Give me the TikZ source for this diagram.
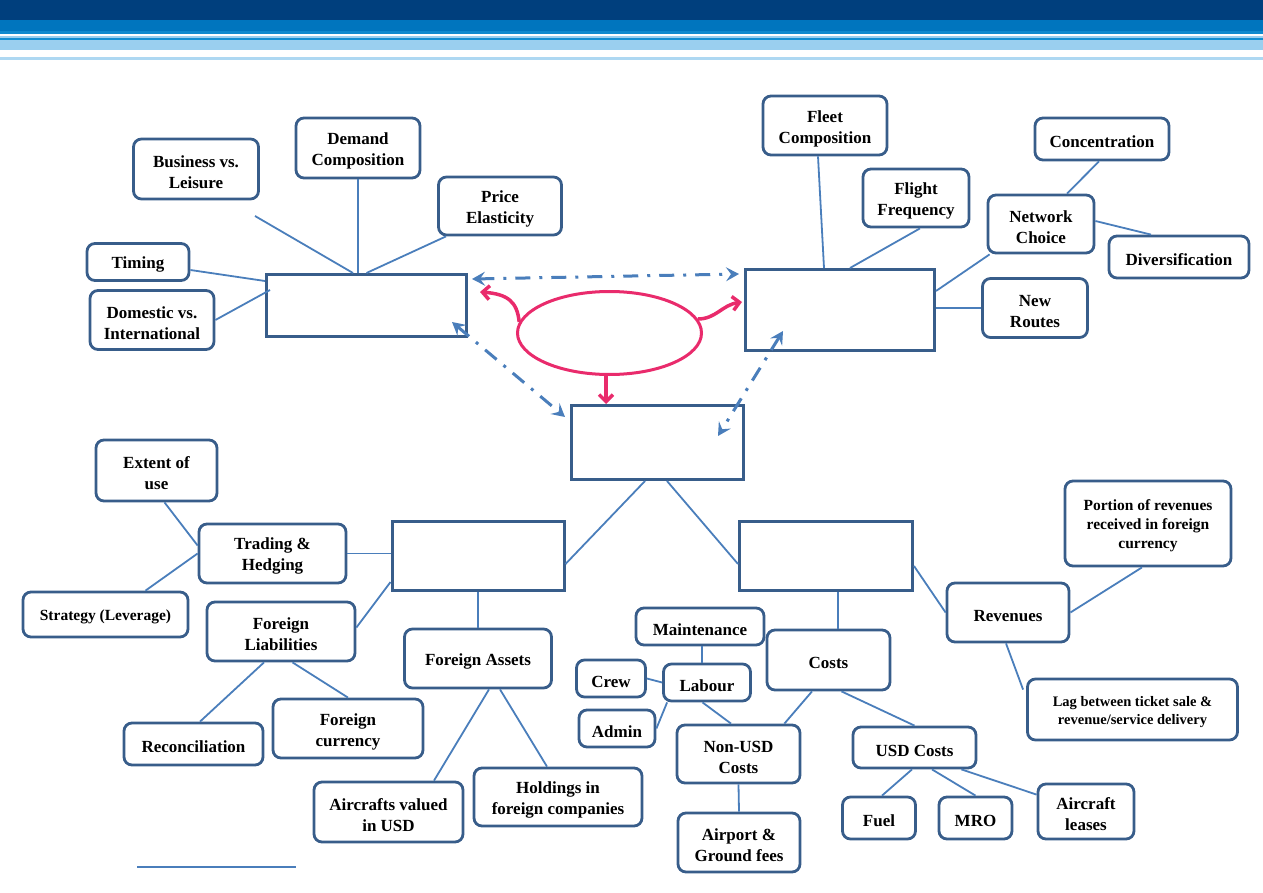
\documentclass[tikz,border=0pt]{standalone}
\usepackage{fontspec}
\setmainfont{Liberation Serif}
\usetikzlibrary{arrows.meta, shapes.geometric}
\definecolor{boxblue}{RGB}{56,93,138}
\definecolor{linkblue}{RGB}{74,126,187}
\definecolor{driverpink}{RGB}{233,43,108}
\definecolor{navyband}{RGB}{0,63,125}
\definecolor{midband}{RGB}{0,117,190}
\definecolor{skyband}{RGB}{154,207,239}
\definecolor{lineband}{RGB}{20,143,210}
\def\rowsdrop{0pt}

\begin{document}
\begin{tikzpicture}[x=1pt,y=-1pt,
            factor/.style={draw=boxblue, line width=2.8pt, rounded corners=8pt, fill=white,
              align=center, inner sep=2pt, font=\bfseries\fontsize{17}{21}\selectfont,
              execute at begin node={\rule{0pt}{\dimexpr1.04em+\rowsdrop\relax}}},
            rows/.code={\def\rowsdrop{#1}},
            sz/.style 2 args={minimum width=#1pt, minimum height=#2pt},
            hub/.style={draw=boxblue, line width=3pt, fill=white},
            link/.style={draw=linkblue, line width=1.8pt},
            flow/.style={linkblue, line width=3pt, dash pattern=on 15pt off 9pt on 3pt off 9pt,
              {Stealth[length=13pt,width=14pt,inset=5pt]}-{Stealth[length=13pt,width=14pt,inset=5pt]}},
            drive/.style={driverpink, line width=3.5pt, -{Straight Barb[length=7pt,width=14pt]}}]
            \useasboundingbox (0,0) rectangle (1263,893);
            % header bands
            \fill[navyband] (0,0) rectangle (1263,20);
            \fill[midband] (0,20) rectangle (1263,31);
            \fill[lineband!80!midband] (0,31) rectangle (1263,34.5);
            \fill[skyband] (0,36) rectangle (1263,38);
            \fill[lineband] (0,38) rectangle (1263,40.5);
            \fill[skyband] (0,40.5) rectangle (1263,50.5);
            \fill[skyband!80] (0,57.5) rectangle (1263,60);

            % demand
            \node[hub, sz={200}{62}] (D) at (366.5,305.5) {};
            \node[factor, rows=21pt, sz={125}{60}] (BL) at (196,169) {Business vs.\\Leisure};
            \node[factor, rows=21pt, sz={124}{60}] (DC) at (358,148) {Demand\\Composition};
            \node[factor, rows=21pt, sz={123}{58}] (PE) at (500,206) {Price\\Elasticity};
            \node[factor, sz={102}{37}] (TI) at (138,262) {Timing};
            \node[factor, rows=21pt, sz={124}{59}] (DI) at (152,320) {Domestic vs.\\International};
            \coordinate (bl) at (255,216);

            % supply
            \node[hub, sz={189}{81}] (S) at (840,310) {};
            \node[factor, rows=21pt, sz={124}{59}] (FC) at (825,125.5) {Fleet\\Composition};
            \node[factor, rows=21pt, sz={106}{58}] (FF) at (916,198) {Flight\\Frequency};
            \node[factor, sz={134}{42}] (CO) at (1102,139) {Concentration};
            \node[factor, rows=21pt, sz={106}{58}] (NC) at (1041,224) {Network\\Choice};
            \node[factor, sz={140}{42}] (DV) at (1179,257) {Diversification};
            \node[factor, rows=21pt, sz={105}{59}] (NR) at (1035,308) {New\\Routes};

            % centre
            \node[ellipse, draw=driverpink, line width=3pt, minimum width=184pt, minimum height=83pt] (E) at (609.5,333) {};
            \node[hub, sz={172}{74}] (R) at (657.5,442.5) {};

            % exposure
            \node[hub, sz={172}{69}] (X) at (478,556) {};
            \node[factor, rows=21pt, sz={121}{61}] (EU) at (156.5,470.5) {Extent of\\use};
            \node[factor, rows=21pt, sz={147}{59}] (TH) at (272.5,553.5) {Trading \&\\Hedging};
            \node[factor, sz={165}{45}, font=\bfseries\fontsize{15.5}{19}\selectfont] (SL) at (105.5,614.5) {Strategy (Leverage)};
            \node[factor, rows=21pt, sz={148}{59}] (FL) at (281,631.5) {Foreign\\Liabilities};
            \node[factor, sz={147}{59}] (FA) at (478,658.5) {Foreign Assets};
            \node[factor, sz={139}{42}] (RC) at (193.5,744) {Reconciliation};
            \node[factor, rows=21pt, sz={150}{59}] (FCU) at (348,728.5) {Foreign\\currency};
            \node[factor, rows=21pt, sz={149}{60}] (AV) at (388.5,812) {Aircrafts valued\\in USD};
            \node[factor, rows=21pt, sz={168}{58}] (HF) at (558,797) {Holdings in\\foreign companies};

            % costs and revenues
            \node[hub, sz={173}{69}] (C) at (826,556) {};
            \node[factor, rows=38pt, sz={166}{85}, font=\bfseries\fontsize{15.5}{19}\selectfont] (PR) at (1148,523.5) {Portion of revenues\\received in foreign\\currency};
            \node[factor, sz={122}{59}] (RV) at (1008,612.5) {Revenues};
            \node[factor, rows=18pt, sz={210}{61}, font=\bfseries\fontsize{14.5}{18}\selectfont] (LG) at (1132.5,709.5) {Lag between ticket sale \&\\revenue/service delivery};
            \node[factor, sz={128}{37}] (MT) at (700,626.5) {Maintenance};
            \node[factor, sz={123}{60}] (CS) at (828.5,660) {Costs};
            \node[factor, sz={69}{37}] (CR) at (611,678.5) {Crew};
            \node[factor, sz={87}{37}] (LB) at (707,682.5) {Labour};
            \node[factor, sz={76}{37}] (AD) at (617,728.5) {Admin};
            \node[factor, rows=21pt, sz={123}{58}] (NU) at (738.5,754) {Non-USD\\Costs};
            \node[factor, sz={123}{41}] (US) at (914.5,747.5) {USD Costs};
            \node[factor, rows=21pt, sz={122}{59}] (AP) at (739,842.5) {Airport \&\\Ground fees};
            \node[factor, sz={73}{42}] (FU) at (879,818) {Fuel};
            \node[factor, sz={73}{42}] (MR) at (975.5,818) {MRO};
            \node[factor, rows=21pt, sz={96}{55}] (AL) at (1086,811.5) {Aircraft\\leases};

            % links, demand
            \draw[link] (bl) -- ([xshift=-13.5pt]D.north);
            \draw[link] (DC.south) -- (DC.south |- D.north);
            \draw[link] ([xshift=-54pt]PE.south) -- (D.north);
            \draw[link] ([yshift=-8pt]TI.east) -- ([yshift=-8pt]D.north west);
            \draw[link] (DI.east) -- ([xshift=5pt,yshift=-17pt]D.north west);
            % links, supply
            \draw[link] ([xshift=-7pt]FC.south) -- ([xshift=-16pt]S.north);
            \draw[link] ([xshift=4pt]FF.south) -- ([xshift=10pt]S.north);
            \draw[link] ([xshift=-3pt]CO.south) -- ([xshift=26pt]NC.north);
            \draw[link] ([yshift=3pt]NC.east) -- ([xshift=-28pt]DV.north);
            \draw[link] ([yshift=19pt]S.east) -- ([xshift=3pt]NC.south west);
            \draw[link] (NR.west) -- (NR.west -| S.east);

            % interactions
            \draw[flow] ([xshift=4pt,yshift=-6pt]D.north east) -- ([xshift=-5pt,yshift=-6pt]S.north west);
            \draw[flow] ([xshift=-16pt,yshift=16pt]D.south east) -- ([xshift=-5pt,yshift=-13pt]R.north west);
            \draw[flow] ([xshift=39pt,yshift=21pt]S.south west) -- ([xshift=-27pt,yshift=-32pt]R.north east);
            \draw[drive] (E.173) .. controls +(-2,-20) and +(28,2) .. ([xshift=12pt,yshift=-19pt]D.north east);
            \draw[drive] (E.9) .. controls +(18,0) and +(-20,3) .. ([xshift=-2pt,yshift=8pt]S.west);
            \draw[drive] ([xshift=-3.5pt]E.south) -- ([xshift=-3.5pt]E.south |- R.north);

            % links, exposure
            \draw[link] ([xshift=-12.5pt]R.south) -- ([yshift=-8pt]X.east);
            \draw[link] ([xshift=9.5pt]R.south) -- ([yshift=-8pt]C.west);
            \draw[link] ([xshift=8pt]EU.south) -- ([yshift=8pt]TH.west);
            \draw[link] ([xshift=40pt]SL.north) -- (TH.west);
            \draw[link] (TH.east) -- (TH.east -| X.west);
            \draw[link] ([yshift=4pt]FL.east) -- ([yshift=10pt]X.south west);
            \draw[link] (X.south) -- (FA.north);
            \draw[link] ([xshift=-17pt]FL.south) -- ([xshift=6.5pt]RC.north);
            \draw[link] ([xshift=11.5pt]FL.south) -- (FCU.north);
            \draw[link] ([xshift=11pt]FA.south) -- ([xshift=45.5pt]AV.north);
            \draw[link] ([xshift=22pt]FA.south) -- ([xshift=-11pt]HF.north);
            % links, costs and revenues
            \draw[link] ([xshift=12pt]C.south) -- ([xshift=9.5pt]CS.north);
            \draw[link] ([yshift=-10pt]C.east) -- (RV.west);
            \draw[link] (RV.east) -- ([xshift=-6pt]PR.south);
            \draw[link] ([xshift=-2pt]RV.south) -- ([xshift=-3pt,yshift=-12pt]LG.north west);
            \draw[link] ([xshift=2pt]MT.south) -- ([xshift=-5pt]LB.north);
            \draw[link] (CR.east) -- (LB.west);
            \draw[link] (AD.east) -- ([xshift=5pt]LB.south west);
            \draw[link] ([xshift=-4.5pt]LB.south) -- ([xshift=-7.5pt]NU.north);
            \draw[link] ([xshift=-16.5pt]CS.south) -- ([xshift=-17pt]NU.north east);
            \draw[link] ([xshift=13pt]CS.south) -- (US.north);
            \draw[link] (NU.south) -- (AP.north);
            \draw[link] ([xshift=-2.5pt]US.south) -- ([xshift=3pt]FU.north);
            \draw[link] ([xshift=17.5pt]US.south) -- (MR.north);
            \draw[link] ([xshift=-16pt]US.south east) -- ([yshift=-12pt]AL.north west);

            % footnote rule
            \draw[linkblue, line width=1.2pt] (137,867) -- (296,867);
\end{tikzpicture}
\end{document}
